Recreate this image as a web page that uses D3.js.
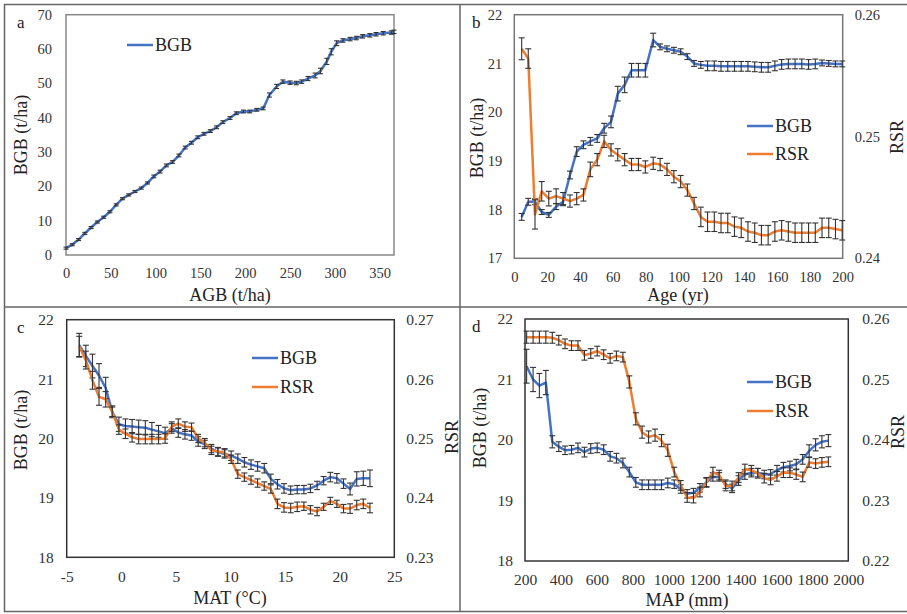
<!DOCTYPE html>
<html>
<head>
<meta charset="utf-8">
<script src="https://cdn.jsdelivr.net/npm/d3@7"></script>
<style>
  body { margin: 0; background: #fff; }
  text { font-family: "Liberation Serif", "Times New Roman", serif; }
</style>
</head>
<body>
<svg id="chart" width="907" height="614"></svg>
<script>
// ---- Panel a: BGB vs AGB ----
const agbA = [0, 7, 14, 21, 28, 35, 42, 49, 56, 63, 70, 77, 84, 91, 98, 105, 112, 119, 126, 133, 140, 147, 154, 161, 168, 175, 183, 190, 198, 205, 213, 220, 227, 235, 242, 250, 257, 263, 270, 278, 284, 291, 296, 302, 309, 317, 324, 331, 339, 346, 354, 363, 366];
const bgbA = [2.0, 3.0, 4.5, 6.3, 8.0, 9.6, 11.0, 12.6, 14.6, 16.4, 17.5, 18.5, 19.5, 21.0, 22.9, 24.3, 26.1, 27.1, 29.0, 31.3, 32.7, 34.3, 35.3, 36.1, 37.2, 38.7, 39.9, 41.3, 41.8, 41.8, 42.3, 42.7, 46.6, 49.1, 50.5, 50.2, 50.1, 50.5, 51.4, 52.3, 53.6, 56.4, 59.2, 61.7, 62.5, 62.9, 63.2, 63.7, 64.0, 64.3, 64.6, 64.8, 65.0];
const bgbErrA = [0.3, 0.3, 0.3, 0.3, 0.3, 0.3, 0.3, 0.3, 0.3, 0.3, 0.3, 0.3, 0.3, 0.3, 0.4, 0.4, 0.4, 0.4, 0.4, 0.4, 0.4, 0.4, 0.4, 0.4, 0.4, 0.4, 0.4, 0.4, 0.4, 0.4, 0.4, 0.4, 0.6, 0.6, 0.5, 0.5, 0.5, 0.5, 0.6, 0.7, 0.8, 0.9, 0.9, 0.7, 0.5, 0.5, 0.5, 0.5, 0.5, 0.5, 0.5, 0.5, 0.5];

// ---- Panel b: BGB / RSR vs stand age ----
const ageB = [4.5, 8.5, 12.6, 16.7, 21, 25.5, 29.7, 33.9, 38, 42.1, 46.3, 50.5, 54.7, 58.9, 63, 67.2, 71.4, 75.6, 79.8, 84.6, 88.8, 93, 97.2, 101.3, 105.4, 109.5, 113.6, 117.7, 121.8, 125.9, 130, 134.1, 138.2, 142.3, 146.4, 150.5, 154.6, 158.7, 162.8, 166.9, 171, 175.1, 179.2, 183.3, 187.4, 191.5, 195.6, 199.7];
const bgbB = [17.85, 18.16, 18.16, 17.95, 17.89, 18.06, 18.16, 18.71, 19.19, 19.33, 19.4, 19.46, 19.67, 19.8, 20.38, 20.56, 20.86, 20.86, 20.86, 21.48, 21.34, 21.3, 21.27, 21.24, 21.14, 21.0, 20.97, 20.95, 20.95, 20.94, 20.94, 20.94, 20.94, 20.94, 20.93, 20.92, 20.92, 20.95, 20.98, 20.99, 20.99, 20.99, 20.98, 20.99, 21.01, 21.0, 20.99, 20.99];
const bgbErrB = [0.07, 0.07, 0.06, 0.05, 0.05, 0.06, 0.08, 0.08, 0.1, 0.08, 0.08, 0.08, 0.1, 0.12, 0.15, 0.16, 0.14, 0.14, 0.14, 0.14, 0.06, 0.06, 0.06, 0.06, 0.06, 0.06, 0.07, 0.1, 0.1, 0.1, 0.1, 0.1, 0.1, 0.1, 0.1, 0.1, 0.1, 0.1, 0.1, 0.1, 0.1, 0.1, 0.1, 0.1, 0.06, 0.06, 0.06, 0.06];
const rsrB = [0.2572, 0.2564, 0.2436, 0.2455, 0.2449, 0.2451, 0.2449, 0.2447, 0.2449, 0.2452, 0.2473, 0.2481, 0.2496, 0.2489, 0.2485, 0.2481, 0.2477, 0.2477, 0.2475, 0.2478, 0.2477, 0.2473, 0.2467, 0.2463, 0.2456, 0.2445, 0.2434, 0.2430, 0.2430, 0.2429, 0.2429, 0.2426, 0.2425, 0.2422, 0.2421, 0.2419, 0.2419, 0.2422, 0.2423, 0.2422, 0.2421, 0.2421, 0.2421, 0.2421, 0.2425, 0.2425, 0.2424, 0.2423];
const rsrErrB = [0.0009, 0.0008, 0.0012, 0.0008, 0.0006, 0.0006, 0.0005, 0.0005, 0.0005, 0.0005, 0.0006, 0.0005, 0.0005, 0.0005, 0.0005, 0.0005, 0.0005, 0.0005, 0.0005, 0.0005, 0.0005, 0.0005, 0.0005, 0.0005, 0.0005, 0.0005, 0.0008, 0.0008, 0.0008, 0.0008, 0.0008, 0.0008, 0.0008, 0.0008, 0.0008, 0.0008, 0.0008, 0.0008, 0.0008, 0.0008, 0.0008, 0.0008, 0.0008, 0.0008, 0.0008, 0.0008, 0.0008, 0.0008];

// ---- Panel c: BGB / RSR vs mean annual temperature ----
const matC = [-3.85, -3.25, -2.64, -2.04, -1.43, -0.83, -0.22, 0.38, 0.99, 1.59, 2.2, 2.8, 3.41, 4.01, 4.62, 5.22, 5.83, 6.43, 7.04, 7.64, 8.25, 8.85, 9.46, 10.06, 10.67, 11.27, 11.88, 12.48, 13.09, 13.69, 14.3, 14.9, 15.51, 16.11, 16.72, 17.32, 17.93, 18.53, 19.14, 19.74, 20.35, 20.95, 21.56, 22.16, 22.77];
const bgbC = [21.57, 21.39, 21.22, 21.06, 20.85, 20.45, 20.24, 20.21, 20.2, 20.19, 20.18, 20.15, 20.12, 20.09, 20.17, 20.1, 20.07, 20.05, 19.95, 19.9, 19.83, 19.77, 19.74, 19.71, 19.66, 19.6, 19.56, 19.53, 19.5, 19.32, 19.23, 19.16, 19.13, 19.14, 19.14, 19.16, 19.21, 19.29, 19.35, 19.33, 19.24, 19.15, 19.32, 19.33, 19.33];
const bgbErrC = [0.2, 0.18, 0.2, 0.2, 0.18, 0.1, 0.12, 0.12, 0.12, 0.12, 0.12, 0.12, 0.1, 0.1, 0.08, 0.08, 0.08, 0.08, 0.08, 0.07, 0.07, 0.07, 0.07, 0.08, 0.08, 0.08, 0.08, 0.08, 0.08, 0.08, 0.08, 0.08, 0.07, 0.07, 0.07, 0.07, 0.07, 0.07, 0.08, 0.08, 0.08, 0.1, 0.12, 0.12, 0.14];
const rsrC = [0.2655, 0.2632, 0.2598, 0.257, 0.2566, 0.2545, 0.2515, 0.2508, 0.2502, 0.2499, 0.2499, 0.2499, 0.2499, 0.25, 0.252, 0.2525, 0.252, 0.2519, 0.25, 0.2493, 0.248, 0.2478, 0.2476, 0.2465, 0.244, 0.2435, 0.243, 0.2425, 0.242, 0.2415, 0.239, 0.2384, 0.2383, 0.2385, 0.2386, 0.238, 0.2377, 0.2385, 0.2395, 0.239, 0.2382, 0.2382, 0.2388, 0.239, 0.2383];
const rsrErrC = [0.0017, 0.0015, 0.0015, 0.0014, 0.0013, 0.0008, 0.0008, 0.0008, 0.0008, 0.0008, 0.0008, 0.0008, 0.0008, 0.0008, 0.0008, 0.0008, 0.0008, 0.0007, 0.0007, 0.0007, 0.0007, 0.0007, 0.0007, 0.0007, 0.0007, 0.0007, 0.0007, 0.0007, 0.0007, 0.0007, 0.0008, 0.0008, 0.0008, 0.0008, 0.0007, 0.0007, 0.0007, 0.0006, 0.0006, 0.0006, 0.0007, 0.0008, 0.0008, 0.0008, 0.0008];

// ---- Panel d: BGB / RSR vs mean annual precipitation ----
const mapD = [209, 245, 280, 316, 352, 388, 423, 459, 495, 531, 566, 602, 638, 674, 709, 745, 781, 817, 852, 888, 924, 960, 995, 1031, 1067, 1103, 1138, 1174, 1210, 1246, 1281, 1317, 1353, 1389, 1424, 1460, 1496, 1532, 1567, 1603, 1639, 1675, 1710, 1746, 1782, 1818, 1853, 1889];
const bgbD = [21.22, 21.0, 20.9, 20.95, 19.97, 19.89, 19.83, 19.84, 19.87, 19.8, 19.86, 19.87, 19.84, 19.73, 19.7, 19.62, 19.47, 19.3, 19.26, 19.26, 19.26, 19.26, 19.29, 19.27, 19.19, 19.11, 19.13, 19.21, 19.3, 19.39, 19.39, 19.27, 19.2, 19.33, 19.43, 19.46, 19.46, 19.43, 19.44, 19.5, 19.55, 19.57, 19.6, 19.68, 19.82, 19.92, 19.97, 19.99];
const bgbErrD = [0.28, 0.2, 0.2, 0.2, 0.1, 0.08, 0.07, 0.07, 0.08, 0.08, 0.08, 0.08, 0.08, 0.08, 0.08, 0.08, 0.08, 0.08, 0.08, 0.08, 0.08, 0.08, 0.08, 0.07, 0.07, 0.07, 0.07, 0.07, 0.07, 0.07, 0.07, 0.07, 0.07, 0.08, 0.08, 0.07, 0.07, 0.07, 0.07, 0.08, 0.08, 0.08, 0.08, 0.08, 0.1, 0.1, 0.1, 0.1];
const rsrD = [0.257, 0.257, 0.257, 0.257, 0.2569, 0.2565, 0.2559, 0.2556, 0.2556, 0.254, 0.2543, 0.2547, 0.2541, 0.2535, 0.2539, 0.2537, 0.2496, 0.2435, 0.2413, 0.2405, 0.2408, 0.2399, 0.2383, 0.2347, 0.2325, 0.2305, 0.2304, 0.2314, 0.233, 0.2347, 0.2342, 0.2324, 0.2324, 0.2338, 0.2352, 0.235, 0.2345, 0.2337, 0.2334, 0.234, 0.2346, 0.2346, 0.2343, 0.2339, 0.2363, 0.2361, 0.2363, 0.2364];
const rsrErrD = [0.001, 0.001, 0.001, 0.001, 0.0009, 0.0008, 0.0008, 0.0008, 0.0008, 0.0008, 0.0008, 0.0008, 0.0008, 0.0008, 0.0008, 0.0008, 0.001, 0.001, 0.001, 0.001, 0.001, 0.001, 0.001, 0.0008, 0.0008, 0.0008, 0.0008, 0.0008, 0.0008, 0.0008, 0.0008, 0.0008, 0.0008, 0.0008, 0.0008, 0.0008, 0.0008, 0.0008, 0.0008, 0.0008, 0.0008, 0.0008, 0.0008, 0.0008, 0.0008, 0.0008, 0.0008, 0.0008];

// Tick labels
const ticksXA = [0, 50, 100, 150, 200, 250, 300, 350];
const ticksYA = [0, 10, 20, 30, 40, 50, 60, 70];
const ticksXB = [0, 20, 40, 60, 80, 100, 120, 140, 160, 180, 200];
const ticksXC = [-5, 0, 5, 10, 15, 20, 25];
const ticksXD = [200, 400, 600, 800, 1000, 1200, 1400, 1600, 1800, 2000];
const ticksBGB = [17, 18, 19, 20, 21, 22];
const ticksRsrB = [0.24, 0.25, 0.26];
const ticksRsrC = [0.23, 0.24, 0.25, 0.26, 0.27];
const ticksRsrD = [0.22, 0.23, 0.24, 0.25, 0.26];

const BLUE = "#4472C4";
const ORANGE = "#ED7D31";
const ERR = "#333";

const svg = d3.select("#chart");
svg.append("rect").attr("width", 907).attr("height", 614).attr("fill", "#fff");

// Outer figure grid (the box lines separating the four panels)
const grid = svg.append("g").attr("stroke", "#666").attr("stroke-width", 1.5).attr("fill", "none");
grid.append("rect").attr("x", 4.5).attr("y", 4.5).attr("width", 920).attr("height", 607);
grid.append("line").attr("x1", 460).attr("x2", 460).attr("y1", 4.5).attr("y2", 611.5);
grid.append("line").attr("x1", 4.5).attr("x2", 907).attr("y1", 307).attr("y2", 307);

function drawPanel(p) {
  const g = svg.append("g");
  const x = d3.scaleLinear().domain(p.xDomain).range([p.box.x0, p.box.x1]);
  const y = d3.scaleLinear().domain(p.yDomain).range([p.box.y1, p.box.y0]);
  const y2 = p.y2Domain ? d3.scaleLinear().domain(p.y2Domain).range([p.box.y1, p.box.y0]) : null;

  // Left axis (labels only, like Excel)
  const yAxis = g.append("g")
    .attr("transform", `translate(${p.box.x0},0)`)
    .call(d3.axisLeft(y).tickValues(p.yTicks).tickSize(0).tickPadding(p.padL).tickFormat(d => String(d)));
  yAxis.select(".domain").remove();
  yAxis.selectAll("text").attr("font-size", p.tickFont).attr("fill", "#333")
    .style("font-family", '"Liberation Serif", serif');

  // Bottom axis
  const xAxis = g.append("g")
    .attr("transform", `translate(0,${p.box.y1})`)
    .call(d3.axisBottom(x).tickValues(p.xTicks).tickSize(0).tickPadding(p.padB).tickFormat(d => String(d)));
  xAxis.select(".domain").remove();
  xAxis.selectAll("text").attr("font-size", p.tickFont).attr("fill", "#333")
    .style("font-family", '"Liberation Serif", serif');

  // Right axis for RSR
  if (y2) {
    const y2Axis = g.append("g")
      .attr("transform", `translate(${p.box.x1},0)`)
      .call(d3.axisRight(y2).tickValues(p.y2Ticks).tickSize(0).tickPadding(p.padR).tickFormat(d3.format(".2f")));
    y2Axis.select(".domain").remove();
    y2Axis.selectAll("text").attr("font-size", p.tickFont).attr("fill", "#333")
      .style("font-family", '"Liberation Serif", serif');
  }

  // Plot frame
  g.append("rect")
    .attr("x", p.box.x0).attr("y", p.box.y0)
    .attr("width", p.box.x1 - p.box.x0).attr("height", p.box.y1 - p.box.y0)
    .attr("fill", "none").attr("stroke", p.frame).attr("stroke-width", 1.5);

  // Series: line, then error bars on top
  p.series.forEach(s => {
    const sc = s.right ? y2 : y;
    const pts = s.xs.map((xv, i) => ({ x: xv, v: s.vs[i], e: s.es[i] }));

    g.append("path").datum(pts)
      .attr("fill", "none")
      .attr("stroke", s.color)
      .attr("stroke-width", 2.5)
      .attr("stroke-linejoin", "round")
      .attr("d", d3.line().x(d => x(d.x)).y(d => sc(d.v)));

    const eb = g.append("g").attr("stroke", ERR).attr("stroke-width", 1.1);
    eb.selectAll("line.v").data(pts).join("line").attr("class", "v")
      .attr("x1", d => x(d.x)).attr("x2", d => x(d.x))
      .attr("y1", d => sc(d.v - d.e)).attr("y2", d => sc(d.v + d.e));
    eb.selectAll("line.t").data(pts).join("line").attr("class", "t")
      .attr("x1", d => x(d.x) - p.cap).attr("x2", d => x(d.x) + p.cap)
      .attr("y1", d => sc(d.v + d.e)).attr("y2", d => sc(d.v + d.e));
    eb.selectAll("line.b").data(pts).join("line").attr("class", "b")
      .attr("x1", d => x(d.x) - p.cap).attr("x2", d => x(d.x) + p.cap)
      .attr("y1", d => sc(d.v - d.e)).attr("y2", d => sc(d.v - d.e));
  });

  // Axis titles
  g.append("text")
    .attr("x", p.xTitle[0]).attr("y", p.xTitle[1])
    .attr("text-anchor", "middle").attr("font-size", 18).attr("fill", "#222")
    .text(p.xLabel);
  g.append("text")
    .attr("transform", `translate(${p.yTitle[0]},${p.yTitle[1]}) rotate(-90)`)
    .attr("text-anchor", "middle").attr("dy", "0.35em").attr("font-size", 18).attr("fill", "#222")
    .text("BGB (t/ha)");
  if (p.y2Title) {
    g.append("text")
      .attr("transform", `translate(${p.y2Title[0]},${p.y2Title[1]}) rotate(-90)`)
      .attr("text-anchor", "middle").attr("dy", "0.35em").attr("font-size", 18).attr("fill", "#222")
      .text("RSR");
  }

  // Panel letter
  g.append("text")
    .attr("x", p.letterPos[0]).attr("y", p.letterPos[1])
    .attr("font-size", 17).attr("fill", "#222")
    .text(p.letter);

  // Legend
  p.series.forEach((s, i) => {
    const ly = p.legend.y + i * p.legend.gap;
    g.append("line")
      .attr("x1", p.legend.x).attr("x2", p.legend.x + 26)
      .attr("y1", ly).attr("y2", ly)
      .attr("stroke", s.color).attr("stroke-width", 2.5);
    g.append("text")
      .attr("x", p.legend.x + 28).attr("y", ly).attr("dy", "0.35em")
      .attr("font-size", 18).attr("fill", "#222")
      .text(s.name);
  });
}

drawPanel({
  box: { x0: 66, x1: 394, y0: 14.7, y1: 255 },
  xDomain: [0, 366], yDomain: [0, 70],
  xTicks: ticksXA, yTicks: ticksYA,
  padL: 14, padB: 13, tickFont: 14.5, cap: 2.5, frame: "#888",
  series: [{ name: "BGB", xs: agbA, vs: bgbA, es: bgbErrA, color: BLUE }],
  xLabel: "AGB (t/ha)", xTitle: [230, 301], yTitle: [21, 135],
  letter: "a", letterPos: [17, 28],
  legend: { x: 127, y: 45, gap: 0 }
});

drawPanel({
  box: { x0: 514.3, x1: 842.7, y0: 14.7, y1: 258.3 },
  xDomain: [0, 200], yDomain: [17, 22], y2Domain: [0.24, 0.26],
  xTicks: ticksXB, yTicks: ticksBGB, y2Ticks: ticksRsrB,
  padL: 12, padR: 12, padB: 13, tickFont: 14.5, cap: 3, frame: "#777",
  series: [
    { name: "BGB", xs: ageB, vs: bgbB, es: bgbErrB, color: BLUE },
    { name: "RSR", xs: ageB, vs: rsrB, es: rsrErrB, color: ORANGE, right: true }
  ],
  xLabel: "Age (yr)", xTitle: [678, 301], yTitle: [477, 138], y2Title: [897, 137],
  letter: "b", letterPos: [472, 28],
  legend: { x: 747, y: 126, gap: 28 }
});

drawPanel({
  box: { x0: 66.7, x1: 394.3, y0: 319.7, y1: 557.3 },
  xDomain: [-5, 25], yDomain: [18, 22], y2Domain: [0.23, 0.27],
  xTicks: ticksXC, yTicks: ticksBGB.slice(1), y2Ticks: ticksRsrC,
  padL: 13, padR: 12, padB: 14, tickFont: 15.5, cap: 3, frame: "#333",
  series: [
    { name: "BGB", xs: matC, vs: bgbC, es: bgbErrC, color: BLUE },
    { name: "RSR", xs: matC, vs: rsrC, es: rsrErrC, color: ORANGE, right: true }
  ],
  xLabel: "MAT (°C)", xTitle: [230, 604], yTitle: [21, 430], y2Title: [452, 437],
  letter: "c", letterPos: [17, 333],
  legend: { x: 252, y: 358, gap: 29 }
});

drawPanel({
  box: { x0: 525, x1: 848.3, y0: 319, y1: 561 },
  xDomain: [200, 2000], yDomain: [18, 22], y2Domain: [0.22, 0.26],
  xTicks: ticksXD, yTicks: ticksBGB.slice(1), y2Ticks: ticksRsrD,
  padL: 12, padR: 14, padB: 13, tickFont: 15.5, cap: 3, frame: "#333",
  series: [
    { name: "BGB", xs: mapD, vs: bgbD, es: bgbErrD, color: BLUE },
    { name: "RSR", xs: mapD, vs: rsrD, es: rsrErrD, color: ORANGE, right: true }
  ],
  xLabel: "MAP (mm)", xTitle: [687, 606], yTitle: [480, 428], y2Title: [898, 432],
  letter: "d", letterPos: [472, 332],
  legend: { x: 747, y: 382, gap: 29 }
});
</script>
</body>
</html>
